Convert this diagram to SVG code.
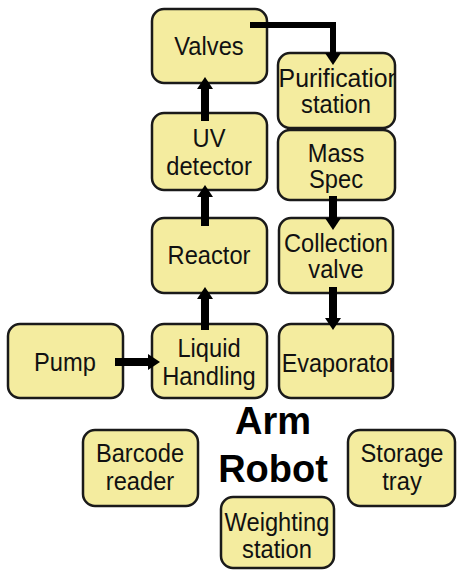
<svg xmlns="http://www.w3.org/2000/svg" width="458" height="570" viewBox="0 0 458 570">
<style>
.box{fill:#f4ec9f;stroke:#1a1a1a;stroke-width:2.5}
.t{font-family:"Liberation Sans",Arial,sans-serif;font-size:23px;fill:#111;text-anchor:middle}
.big{font-family:"Liberation Sans",Arial,sans-serif;font-size:38px;font-weight:bold;fill:#000;text-anchor:middle}
.c{fill:none;stroke:#000;stroke-width:8}
</style>
<defs>
<marker id="ah" markerUnits="userSpaceOnUse" markerWidth="12" markerHeight="16" viewBox="0 0 12 16" refX="0" refY="8" orient="auto">
<path d="M0,0 L12,8 L0,16 z" fill="#000"/>
</marker>
<clipPath id="cpP"><rect x="278" y="53" width="117" height="75" rx="12"/></clipPath>
<clipPath id="cpE"><rect x="279" y="324" width="114" height="74" rx="12"/></clipPath>
</defs>
<rect width="458" height="570" fill="#fff"/>
<g id="valves"><rect class="box" x="152" y="9" width="115" height="74" rx="12"/><text class="t" transform="translate(209,55) scale(1.03,1.15)">Valves</text></g>
<g id="uv"><rect class="box" x="152" y="113" width="115" height="77" rx="12"/><text class="t" transform="translate(209,147) scale(1.03,1.12)">UV</text><text class="t" transform="translate(209,175) scale(1.03,1.12)">detector</text></g>
<g id="reactor"><rect class="box" x="152" y="218" width="115" height="75" rx="12"/><text class="t" transform="translate(209,264) scale(1.03,1.15)">Reactor</text></g>
<g id="liquid"><rect class="box" x="152" y="324" width="115" height="74" rx="12"/><text class="t" transform="translate(209,357) scale(1.03,1.12)">Liquid</text><text class="t" transform="translate(209,385) scale(1.03,1.12)">Handling</text></g>
<g id="pump"><rect class="box" x="8" y="324" width="115" height="74" rx="12"/><text class="t" transform="translate(65,371) scale(1.03,1.15)">Pump</text></g>
<g id="purif"><rect class="box" x="278" y="53" width="117" height="75" rx="12"/><g clip-path="url(#cpP)"><text class="t" transform="translate(340,87) scale(1.08,1.12)">Purification</text></g><text class="t" transform="translate(336,113) scale(1.03,1.12)">station</text></g>
<g id="mass"><rect class="box" x="278" y="130" width="117" height="70" rx="12"/><text class="t" transform="translate(336,162) scale(1.03,1.12)">Mass</text><text class="t" transform="translate(336,188) scale(1.03,1.12)">Spec</text></g>
<g id="collection"><rect class="box" x="279" y="218" width="114" height="75" rx="12"/><text class="t" transform="translate(336,252) scale(1.03,1.12)">Collection</text><text class="t" transform="translate(336,278) scale(1.03,1.12)">valve</text></g>
<g id="evap"><rect class="box" x="279" y="324" width="114" height="74" rx="12"/><g clip-path="url(#cpE)"><text class="t" transform="translate(339,372) scale(1.02,1.15)">Evaporator</text></g></g>
<g id="barcode"><rect class="box" x="83" y="430" width="115" height="76" rx="12"/><text class="t" transform="translate(140,462) scale(1.03,1.12)">Barcode</text><text class="t" transform="translate(140,490) scale(1.03,1.12)">reader</text></g>
<g id="storage"><rect class="box" x="348" y="430" width="107" height="76" rx="12"/><text class="t" transform="translate(402,462) scale(1.03,1.12)">Storage</text><text class="t" transform="translate(402,490) scale(1.03,1.12)">tray</text></g>
<g id="weighting"><rect class="box" x="221" y="497" width="113" height="71" rx="12"/><text class="t" transform="translate(277,531) scale(1.03,1.1)">Weighting</text><text class="t" transform="translate(277,558) scale(1.03,1.1)">station</text></g>
<g id="arm"><text class="big" x="273" y="434">Arm</text><text class="big" x="273" y="482">Robot</text></g>
<g id="connectors">
<path class="c" style="stroke-width:6" d="M250,25 H333 V53" marker-end="url(#ah)"/>
<path class="c" d="M205,121 V89" marker-end="url(#ah)"/>
<path class="c" d="M205,226 V197" marker-end="url(#ah)"/>
<path class="c" d="M205,330 V299" marker-end="url(#ah)"/>
<path class="c" d="M333,196 V218" marker-end="url(#ah)"/>
<path class="c" d="M333,287 V318" marker-end="url(#ah)"/>
<path class="c" d="M115,362 H148" marker-end="url(#ah)"/>
</g>
</svg>
